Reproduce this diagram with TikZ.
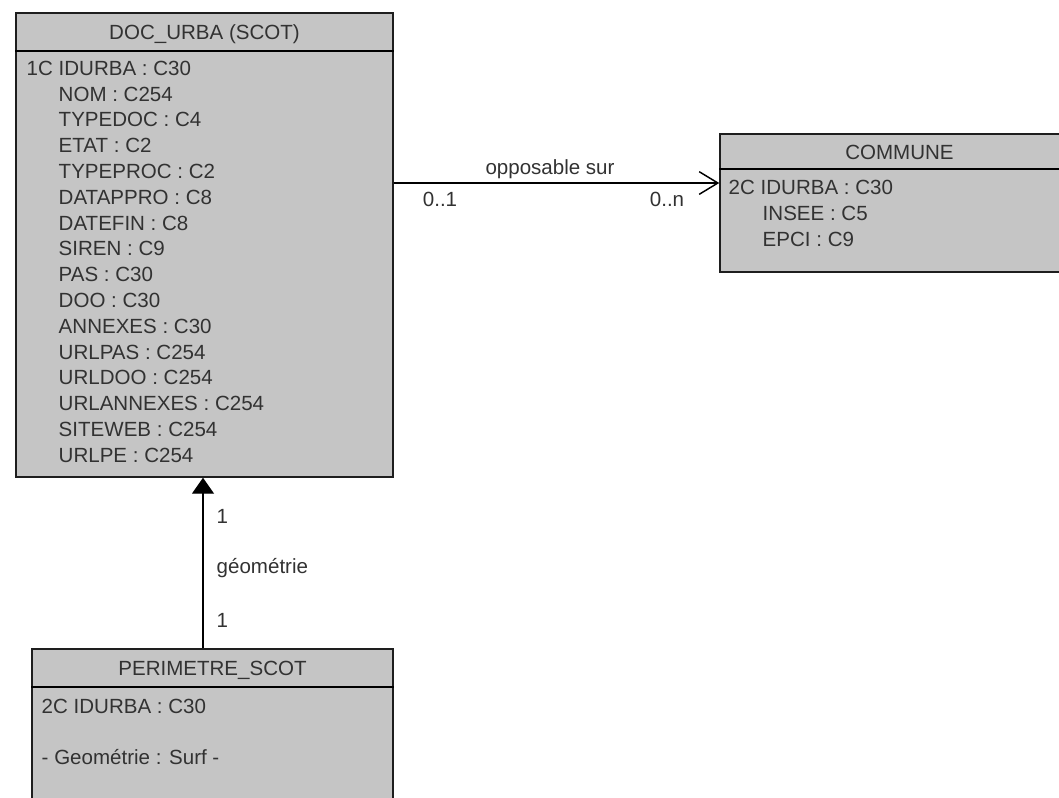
\documentclass[tikz,border=0pt]{standalone}
\usepackage{fontspec}
\setmainfont{Liberation Sans}
\usetikzlibrary{arrows.meta}

\definecolor{boxgrey}{RGB}{197,197,197}
\definecolor{inkgrey}{RGB}{50,50,50}
\tikzset{every picture/.style={line width=1.1pt}}
\tikzset{
  classbox/.style={draw={rgb,255:red,30;green,30;blue,30}, fill=boxgrey, inner sep=0pt},
  attr/.style={anchor=west, inner sep=0pt, text=inkgrey, font=\fontsize{15.4}{18}\selectfont, text height=11pt, text depth=0pt},
  title/.style={attr, anchor=center},
  lbl/.style={inner sep=0pt, text=inkgrey, font=\fontsize{15.4}{18}\selectfont},
  openhead/.style={-{Straight Barb[length=14pt,width=17pt,line width=1.1pt]}},
  fullhead/.style={-{Triangle[length=12pt,width=16.5pt]}}
}

\begin{document}
\begin{tikzpicture}[x=0.75pt,y=0.75pt,yscale=-1,xscale=1]
    \useasboundingbox (0,0) rectangle (1059,797);
    \clip (0,0) rectangle (1059,797);

    %Shape: Rectangle [DOC_URBA]
    \node [classbox, minimum width=282.75pt, minimum height=348pt] (docurba) at (204.5,245) {};
    \draw (docurba.west |- 0,51) -- (docurba.east |- 0,51) ;
    %Shape: Rectangle [COMMUNE]
    \node [classbox, minimum width=269.25pt, minimum height=103.5pt] (commune) at (899.5,203) {};
    \draw (commune.west |- 0,169) -- (commune.east |- 0,169) ;
    %Shape: Rectangle [PERIMETRE_SCOT]
    \node [classbox, minimum width=270.75pt, minimum height=123pt] (perimetre) at (212.5,731) {};
    \draw (perimetre.west |- 0,687) -- (perimetre.east |- 0,687) ;

    %Straight Lines [opposable sur]
    \draw [openhead] (docurba.east |- 0,183) -- (commune.west |- 0,183) ;
    %Straight Lines [geometrie]
    \draw [fullhead] (perimetre.north -| 203,0) -- (docurba.south -| 203,0) ;

    % Text Node
    \node [title] (docurbatitle) at (204.5,32) {DOC\_URBA (SCOT)};
    \node [attr] (du0) at (26,68) {1C IDURBA : C30};
    \foreach \txt [count=\i] in {NOM : C254, TYPEDOC : C4, ETAT : C2, TYPEPROC : C2, DATAPPRO : C8, DATEFIN : C8, SIREN : C9, PAS : C30, DOO : C30, ANNEXES : C30, URLPAS : C254, URLDOO : C254, URLANNEXES : C254, SITEWEB : C254, URLPE : C254}
        \node [attr] (du\i) at (58,{68+25.8*\i}) {\txt};

    % Text Node
    \node [title] (communetitle) at (899.5,152) {COMMUNE};
    \node [attr] (com0) at (728,187) {2C IDURBA : C30};
    \node [attr] (com1) at (762,213) {INSEE : C5};
    \node [attr] (com2) at (762,239) {EPCI : C9};

    % Text Node
    \node [title] (perimetretitle) at (212.5,668) {PERIMETRE\_SCOT};
    \node [attr] (per0) at (41,706) {2C IDURBA : C30};
    \node [attr] (per1) at (41,757) {- Geométrie : Surf -};

    % Text Node
    \node [lbl] (oppos) at (550,169) {opposable sur};
    \node [lbl] (card01) at (440,199) {0..1};
    \node [lbl] (card0n) at (667,199) {0..n};
    \node [lbl, anchor=west] (cardtop) at (216,516) {1};
    \node [lbl, anchor=west] (geom) at (216,568) {géométrie};
    \node [lbl, anchor=west] (cardbot) at (216,620) {1};

\end{tikzpicture}
\end{document}
